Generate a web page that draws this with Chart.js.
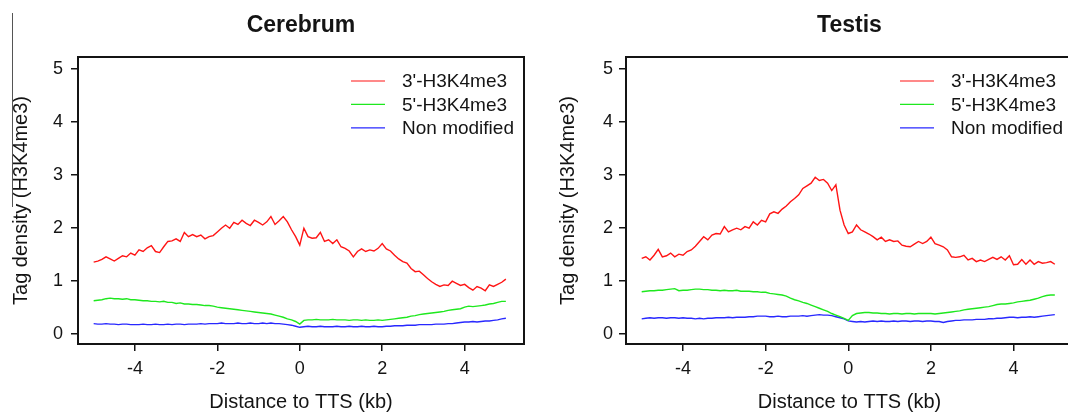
<!DOCTYPE html>
<html><head><meta charset="utf-8">
<script src="https://cdn.jsdelivr.net/npm/chart.js@4/dist/chart.umd.min.js"></script>
<style>
html,body{margin:0;padding:0;background:#fff;width:1068px;height:412px;overflow:hidden;position:relative;}
#c1{position:absolute;left:0;top:0;}
#c2{position:absolute;left:548px;top:0;}
</style></head><body>
<canvas id="c1" width="534" height="412"></canvas>
<canvas id="c2" width="535" height="412"></canvas>
<script>
const distanceKb = [
-5.0,-4.9,-4.8,-4.7,-4.6,-4.5,-4.4,-4.3,-4.2,-4.1,
-4.0,-3.9,-3.8,-3.7,-3.6,-3.5,-3.4,-3.3,-3.2,-3.1,
-3.0,-2.9,-2.8,-2.7,-2.6,-2.5,-2.4,-2.3,-2.2,-2.1,
-2.0,-1.9,-1.8,-1.7,-1.6,-1.5,-1.4,-1.3,-1.2,-1.1,
-1.0,-0.9,-0.8,-0.7,-0.6,-0.5,-0.4,-0.3,-0.2,-0.1,
0.0,0.1,0.2,0.3,0.4,0.5,0.6,0.7,0.8,0.9,
1.0,1.1,1.2,1.3,1.4,1.5,1.6,1.7,1.8,1.9,
2.0,2.1,2.2,2.3,2.4,2.5,2.6,2.7,2.8,2.9,
3.0,3.1,3.2,3.3,3.4,3.5,3.6,3.7,3.8,3.9,
4.0,4.1,4.2,4.3,4.4,4.5,4.6,4.7,4.8,4.9,
5.0];

const seriesLabels = ["3'-H3K4me3", "5'-H3K4me3", "Non modified"];
const seriesColors = ["#ff1414", "#1ee81e", "#2828ff"];

const cerebrum3 = [
1.35,1.37,1.40,1.45,1.41,1.37,1.42,1.47,1.45,1.52,
1.48,1.58,1.55,1.62,1.66,1.55,1.53,1.64,1.74,1.75,
1.79,1.74,1.91,1.83,1.87,1.83,1.86,1.79,1.83,1.85,
1.92,1.99,2.05,1.99,2.10,2.06,2.14,2.08,2.04,2.14,
2.10,2.05,2.11,2.21,2.06,2.13,2.21,2.11,1.96,1.83,
1.67,1.99,1.83,1.80,1.81,1.91,1.74,1.77,1.70,1.77,
1.64,1.61,1.56,1.45,1.55,1.60,1.55,1.58,1.56,1.61,
1.70,1.60,1.56,1.48,1.41,1.36,1.33,1.23,1.17,1.18,
1.11,1.04,0.98,0.93,0.89,0.92,0.91,0.99,0.95,0.91,
0.93,0.87,0.82,0.89,0.86,0.81,0.92,0.89,0.93,0.97,
1.03];
const cerebrum5 = [
0.62,0.63,0.64,0.66,0.67,0.66,0.66,0.65,0.66,0.64,
0.64,0.63,0.62,0.62,0.61,0.61,0.60,0.61,0.59,0.59,
0.57,0.58,0.56,0.56,0.55,0.55,0.54,0.53,0.53,0.52,
0.50,0.49,0.48,0.47,0.46,0.45,0.44,0.43,0.42,0.41,
0.40,0.39,0.38,0.37,0.35,0.33,0.31,0.28,0.26,0.23,
0.18,0.25,0.26,0.26,0.27,0.26,0.26,0.26,0.27,0.26,
0.26,0.26,0.25,0.26,0.26,0.25,0.26,0.25,0.25,0.26,
0.25,0.26,0.27,0.28,0.29,0.30,0.31,0.33,0.34,0.36,
0.37,0.38,0.39,0.40,0.41,0.42,0.44,0.45,0.46,0.47,
0.50,0.52,0.51,0.52,0.53,0.54,0.56,0.57,0.59,0.61,
0.61];
const cerebrumNon = [
0.19,0.18,0.18,0.19,0.18,0.18,0.17,0.18,0.18,0.17,
0.17,0.17,0.18,0.17,0.17,0.18,0.17,0.17,0.18,0.17,
0.18,0.18,0.17,0.18,0.18,0.18,0.19,0.18,0.19,0.19,
0.19,0.20,0.19,0.19,0.19,0.20,0.19,0.19,0.20,0.19,
0.19,0.20,0.19,0.20,0.19,0.19,0.18,0.17,0.16,0.14,
0.12,0.13,0.14,0.13,0.13,0.14,0.13,0.13,0.13,0.14,
0.13,0.13,0.14,0.13,0.13,0.14,0.13,0.13,0.14,0.13,
0.13,0.14,0.14,0.15,0.15,0.15,0.16,0.16,0.16,0.17,
0.17,0.17,0.17,0.18,0.18,0.18,0.19,0.19,0.20,0.21,
0.22,0.22,0.23,0.22,0.23,0.24,0.24,0.25,0.26,0.28,
0.29];

const testis3 = [
1.42,1.45,1.39,1.48,1.59,1.45,1.47,1.52,1.45,1.50,
1.48,1.55,1.58,1.65,1.74,1.83,1.77,1.86,1.89,1.88,
2.02,1.92,1.96,1.99,1.96,2.02,1.99,2.11,2.05,2.14,
2.11,2.26,2.30,2.27,2.35,2.41,2.49,2.55,2.62,2.74,
2.79,2.84,2.95,2.89,2.91,2.84,2.70,2.81,2.33,2.05,
1.89,1.92,2.05,1.96,1.92,1.88,1.83,1.77,1.82,1.74,
1.77,1.74,1.75,1.67,1.65,1.64,1.69,1.74,1.70,1.74,
1.82,1.70,1.67,1.64,1.58,1.45,1.44,1.45,1.48,1.39,
1.42,1.36,1.39,1.36,1.40,1.44,1.40,1.45,1.39,1.47,
1.30,1.31,1.40,1.31,1.39,1.31,1.36,1.33,1.34,1.36,
1.31];
const testis5 = [
0.79,0.80,0.81,0.81,0.82,0.82,0.83,0.84,0.85,0.81,
0.82,0.82,0.83,0.84,0.84,0.83,0.83,0.82,0.82,0.81,
0.82,0.81,0.81,0.82,0.80,0.80,0.80,0.79,0.79,0.78,
0.78,0.76,0.75,0.74,0.73,0.71,0.67,0.64,0.62,0.59,
0.57,0.54,0.51,0.48,0.45,0.42,0.38,0.35,0.32,0.29,
0.25,0.34,0.38,0.39,0.40,0.40,0.39,0.39,0.38,0.38,
0.37,0.38,0.38,0.37,0.38,0.38,0.37,0.38,0.38,0.38,
0.38,0.37,0.38,0.39,0.40,0.41,0.42,0.43,0.45,0.46,
0.47,0.48,0.49,0.50,0.51,0.53,0.55,0.56,0.56,0.57,
0.58,0.60,0.61,0.62,0.63,0.65,0.67,0.70,0.72,0.73,
0.73];
const testisNon = [
0.28,0.29,0.30,0.29,0.30,0.30,0.29,0.30,0.30,0.29,
0.30,0.29,0.29,0.28,0.29,0.28,0.29,0.29,0.30,0.30,
0.30,0.31,0.30,0.31,0.31,0.31,0.32,0.32,0.33,0.33,
0.33,0.32,0.32,0.33,0.32,0.32,0.33,0.33,0.33,0.34,
0.33,0.34,0.35,0.36,0.35,0.35,0.34,0.32,0.30,0.28,
0.24,0.23,0.22,0.23,0.22,0.23,0.24,0.23,0.24,0.23,
0.23,0.24,0.23,0.24,0.24,0.23,0.24,0.24,0.23,0.24,
0.24,0.23,0.23,0.21,0.23,0.24,0.25,0.25,0.26,0.26,
0.26,0.27,0.27,0.27,0.28,0.28,0.29,0.29,0.30,0.31,
0.31,0.30,0.31,0.31,0.32,0.31,0.32,0.33,0.34,0.35,
0.36];

const xTickValues = [-4, -2, 0, 2, 4];
const yTickValues = [0, 1, 2, 3, 4, 5];
const xAxisTitle = "Distance to TTS (kb)";
const yAxisTitle = "Tag density (H3K4me3)";

const FONT = "'Liberation Sans', Arial, Helvetica, sans-serif";
const INK = "#141414";

const decorPlugin = {
  id: 'decor',
  afterDraw(chart, args, opts) {
    const ctx = chart.ctx;
    const a = chart.chartArea;
    ctx.save();
    ctx.strokeStyle = INK;
    ctx.lineWidth = 2;
    ctx.strokeRect(a.left, a.top, a.right - a.left, a.bottom - a.top);
    ctx.fillStyle = INK;
    ctx.font = "bold 23px " + FONT;
    ctx.textAlign = 'center';
    ctx.textBaseline = 'middle';
    ctx.fillText(opts.title, (a.left + a.right) / 2, 26);
    ctx.font = "19px " + FONT;
    ctx.textAlign = 'left';
    chart.data.datasets.forEach((ds, i) => {
      const y = 81 + i * 23.4;
      ctx.strokeStyle = ds.borderColor;
      ctx.lineWidth = 1.2;
      ctx.beginPath();
      ctx.moveTo(a.right - 173, y);
      ctx.lineTo(a.right - 139, y);
      ctx.stroke();
      ctx.fillStyle = INK;
      ctx.fillText(ds.label, a.right - 122, y + 1);
    });
    if (opts.edgeLine) {
      ctx.strokeStyle = '#555';
      ctx.lineWidth = 1;
      ctx.beginPath();
      ctx.moveTo(12.5, 13);
      ctx.lineTo(12.5, 207);
      ctx.stroke();
    }
    ctx.restore();
  }
};

function makeChart(id, title, values, yTitlePad, yTickPad, padRight, edgeLine) {
  const datasets = values.map((vals, i) => ({
    label: seriesLabels[i],
    data: distanceKb.map((x, j) => ({x: x, y: vals[j]})),
    borderColor: seriesColors[i],
    borderWidth: 1.4,
    pointRadius: 0,
    tension: 0,
    fill: false
  }));
  return new Chart(document.getElementById(id), {
    type: 'line',
    data: { datasets },
    plugins: [decorPlugin],
    options: {
      responsive: false,
      animation: false,
      devicePixelRatio: 1,
      layout: { padding: { top: 57, right: padRight, bottom: 0, left: 0 } },
      plugins: {
        legend: { display: false },
        tooltip: { enabled: false },
        title: { display: false },
        decor: { title: title, edgeLine: edgeLine }
      },
      scales: {
        x: {
          type: 'linear',
          min: -5.38, max: 5.44,
          afterBuildTicks: s => { s.ticks = xTickValues.map(v => ({value: v})); },
          afterFit: s => { s.height = 68; },
          border: { display: false },
          grid: { drawOnChartArea: false, drawTicks: true, tickLength: 7, color: INK, lineWidth: 1.5 },
          ticks: { font: { size: 18, family: FONT }, color: INK, padding: 7, maxRotation: 0,
                   callback: v => String(v) },
          title: { display: true, text: xAxisTitle, color: INK,
                   font: { size: 20, family: FONT, lineHeight: 1 }, padding: { top: 0, bottom: 0 } }
        },
        y: {
          type: 'linear',
          min: -0.195, max: 5.22,
          afterBuildTicks: s => { s.ticks = yTickValues.map(v => ({value: v})); },
          afterFit: s => { s.width = 78; },
          border: { display: false },
          grid: { drawOnChartArea: false, drawTicks: true, tickLength: 7, color: INK, lineWidth: 1.5 },
          ticks: { font: { size: 18, family: FONT }, color: INK, padding: yTickPad,
                   callback: v => String(v) },
          title: { display: true, text: yAxisTitle, color: INK,
                   font: { size: 20, family: FONT, lineHeight: 1.2 }, padding: { top: yTitlePad, bottom: 0 } }
        }
      }
    }
  });
}

makeChart('c1', 'Cerebrum', [cerebrum3, cerebrum5, cerebrumNon], 9, 8, 10, true);
makeChart('c2', 'Testis', [testis3, testis5, testisNon], 8, 6, 10, false);
</script>
</body></html>
